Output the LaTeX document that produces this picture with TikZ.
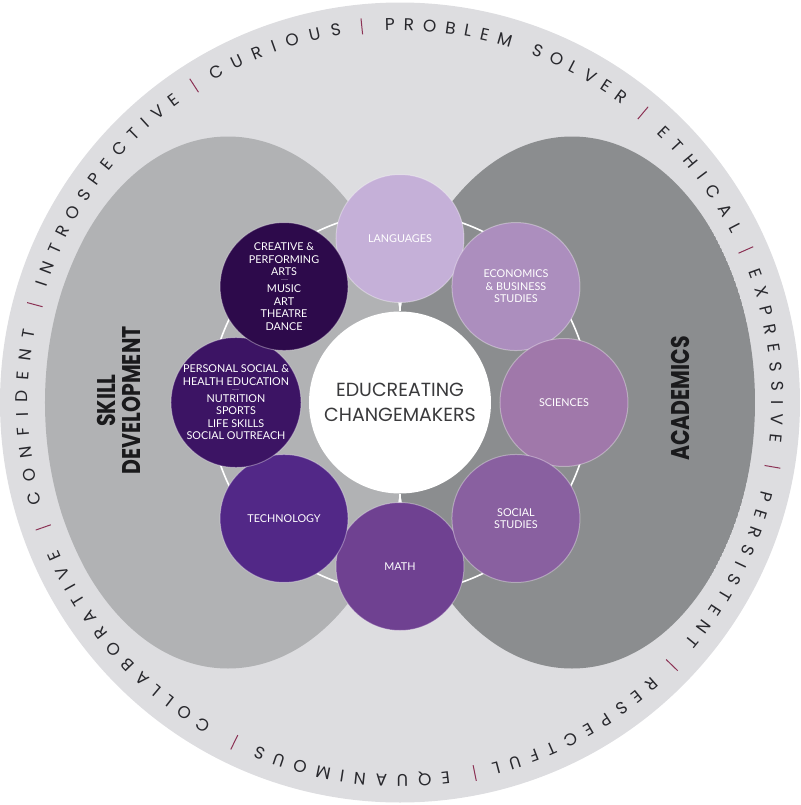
\documentclass[tikz,border=0pt]{standalone}
\usepackage{fontspec}
\usepackage{tikz}
\usetikzlibrary{decorations.text}
\setmainfont{Poppins}
\newfontfamily\ringfont{Poppins}
\newfontfamily\subjfont{Lato}
\newfontfamily\lobefont[FakeStretch=0.8]{Poppins}
\newcommand\ringstyle{\ringfont\fontsize{8.5}{10}\selectfont}
\newcommand\subjdash{{\color{dashcol}\rule[1pt]{3.5pt}{0.45pt}}}
\definecolor{ringgray}{RGB}{221,221,224}
\definecolor{lobeleft}{RGB}{177,178,180}
\definecolor{loberight}{RGB}{139,141,143}
\definecolor{ringink}{RGB}{40,40,45}
\definecolor{sepcol}{RGB}{140,50,85}
\definecolor{centerink}{RGB}{58,58,60}
\definecolor{labelink}{RGB}{26,26,28}
\definecolor{langcol}{RGB}{197,176,216}
\definecolor{econcol}{RGB}{172,142,190}
\definecolor{scicol}{RGB}{160,120,170}
\definecolor{soccol}{RGB}{137,96,160}
\definecolor{mathcol}{RGB}{111,65,145}
\definecolor{techcol}{RGB}{82,40,135}
\definecolor{pshecol}{RGB}{60,20,100}
\definecolor{artscol}{RGB}{45,10,75}
\definecolor{dashcol}{RGB}{190,175,205}

\begin{document}
\begin{tikzpicture}[x=0.5pt, y=0.5pt,
    subject/.style={circle, minimum size=64pt, inner sep=0pt, draw=white, draw opacity=0.35,
      line width=0.5pt, text=white, align=center, font=\subjfont\fontsize{5.4}{6.25}\selectfont},
    lobelabel/.style={rotate=90, align=center, text=labelink,
      font=\lobefont\bfseries\fontsize{12.8}{12.5}\selectfont},
    sepline/.style={sepcol, line width=0.5pt},
    orbit/.style={white, line width=0.8pt}]
    \useasboundingbox (-400,-402.5) rectangle (400,402.5);
    % outer disc
    \fill[ringgray] (0,0) circle[radius=400];
    % the two lobes
    \begin{scope}
      \clip (0,0) circle[radius=356];
      \fill[lobeleft] (-172,0) ellipse[x radius=183, y radius=266];
      \fill[loberight] (172,0) ellipse[x radius=183, y radius=266];
    \end{scope}
    % words round the ring
    \foreach \a/\b/\w in {120.1/99.0/CURIOUS, 92.3/53.3/PROBLEM SOLVER, 46.4/26.9/ETHICAL,
        20.6/-6.2/EXPRESSIVE, -13.7/-40.1/PERSISTENT, -47.4/-75.8/RESPECTFUL,
        -82.4/-112.6/EQUANIMOUS, -120.4/-156.8/COLLABORATIVE, -164.3/-191.1/CONFIDENT,
        162.0/126.1/INTROSPECTIVE}
      \path[decorate, decoration={text along path, text/.expanded={|\noexpand\ringstyle|\w},
          text align={fit to path}, text color=ringink}]
        (\a:372) arc[start angle=\a, end angle=\b, radius=372];
    \foreach \s in {95.8,50,23.8,-9.8,-44,-78.6,-116,-160.7,165,123}
      \draw[sepline] (\s:370) -- (\s:386);
    % orbit
    \draw[orbit] (0,0) circle[radius=190];
    % subjects
    \node[circle, fill=white, minimum size=91pt, inner sep=0pt, align=center, text=centerink,
      font=\fontsize{9.5}{12.3}\selectfont] (ctr) at (0,0) {EDUCREATING\\CHANGEMAKERS};
    \node[subject, fill=langcol] (lang) at (90:164) {LANGUAGES};
    \node[subject, fill=mathcol] (math) at (-90:164) {MATH};
    \draw[orbit, line width=1.2pt] (ctr) -- (lang);
    \draw[orbit, line width=1.2pt] (ctr) -- (math);
    \node[subject, fill=econcol] (econ) at (45:164) {ECONOMICS\\\& BUSINESS\\STUDIES};
    \node[subject, fill=scicol] (sci) at (0:164) {SCIENCES};
    \node[subject, fill=soccol] (soc) at (-45:164) {SOCIAL\\STUDIES};
    \node[subject, fill=techcol] (tech) at (-135:164) {TECHNOLOGY};
    \node[subject, fill=pshecol] (pshe) at (180:164) {PERSONAL SOCIAL \&\\HEALTH EDUCATION\\[-3pt]
      \subjdash\\[-1pt]NUTRITION\\SPORTS\\LIFE SKILLS\\SOCIAL OUTREACH};
    \node[subject, fill=artscol] (arts) at (135:164) {CREATIVE \&\\PERFORMING\\ARTS\\[-3pt]
      \subjdash\\[-1pt]MUSIC\\ART\\THEATRE\\DANCE};
    % lobe titles
    \node[lobelabel] (skill) at (-281,2) {SKILL\\DEVELOPMENT};
    \node[lobelabel] (acad) at (280,4) {ACADEMICS};
\end{tikzpicture}
\end{document}
